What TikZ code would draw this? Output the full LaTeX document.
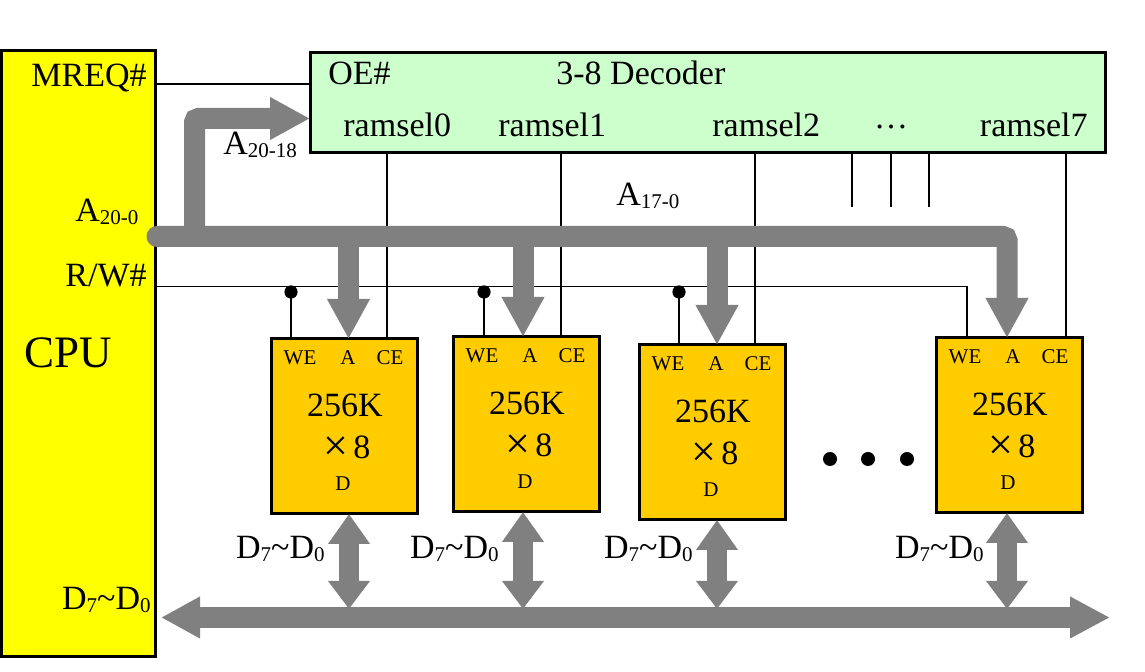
\documentclass[tikz,border=0pt]{standalone}
\usepackage{fontspec}
\usepackage{graphicx}
\setmainfont{Liberation Serif}
\usetikzlibrary{arrows.meta}
\definecolor{cpuY}{HTML}{FFFF00}
\definecolor{decG}{HTML}{CCFFCC}
\definecolor{chipO}{HTML}{FFCC00}
\definecolor{busG}{HTML}{808080}
\newcommand\sbs[1]{\raisebox{-1.5pt}{\fontsize{10.5pt}{11pt}\selectfont #1}}
\newcommand\bigf{\fontsize{17pt}{20pt}\selectfont}
\newcommand\memchip[3]{%
  \begin{scope}[shift={(#2,#3)}]
    \node[chipbox, anchor=north west] (#1) at (0,0) {};
    \node[smalltxt] (#1-we) at (29,26) {WE};
    \node[smalltxt] (#1-a) at (77,26) {A};
    \node[smalltxt] (#1-ce) at (119,26) {CE};
    \node[bigtxt] (#1-k) at (74,78) {256K};
    \node[bigtxt] (#1-x) at (76,120) {\raisebox{-1pt}{\scalebox{1.3}{×}}\kern2.5pt8};
    \node[dtxt] (#1-d) at (72,152) {D};
  \end{scope}}
\tikzset{
  x=0.5pt, y=-0.5pt,
  chipbox/.style={draw, line width=1.5pt, fill=chipO, minimum width=73pt, minimum height=87.5pt, inner sep=0pt, outer sep=0pt},
  smalltxt/.style={inner sep=0pt, anchor=base, font=\fontsize{10.5pt}{12pt}\selectfont},
  bigtxt/.style={inner sep=0pt, anchor=base, font=\bigf},
  dtxt/.style={inner sep=0pt, anchor=base, font=\fontsize{10.5pt}{12pt}\selectfont},
  lbl/.style={inner sep=0pt, font=\bigf},
  wire/.style={line width=0.75pt, draw=black},
  bus/.style={line width=10.5pt, draw=busG},
  bigtip/.style={-{Triangle[width=20pt, length=20pt]}},
  dtipA/.style={{Triangle[width=20pt, length=15pt]}-{Triangle[width=20pt, length=14pt]}},
}
\begin{document}
\begin{tikzpicture}
\useasboundingbox (0,0) rectangle (1145,672);
% CPU
\node[draw, line width=1.5pt, fill=cpuY, minimum width=77pt, minimum height=303pt, inner sep=0pt, outer sep=0pt, anchor=north west] (cpu) at (1.5,51) {};
\node[lbl, anchor=base west, font=\fontsize{22.5pt}{26pt}\selectfont] (cpulbl) at (24,368) {CPU};
\node[lbl, anchor=base east] (mreq) at (147,87) {MREQ\#};
\node[lbl, anchor=base west] (a200) at (75,222) {A\sbs{20-0}};
\node[lbl, anchor=base east] (rw) at (147,287) {R/W\#};
\node[lbl, anchor=base east] (dcpu) at (151,610) {D\sbs{7}\textasciitilde D\sbs{0}};
% decoder
\node[draw, line width=1.5pt, fill=decG, minimum width=397.5pt, minimum height=50pt, inner sep=0pt, outer sep=0pt, anchor=north west] (dec) at (310,53) {};
\node[lbl, anchor=base west] (oe) at (328,85) {OE\#};
\node[lbl, anchor=base west] (dectitle) at (556,85) {3-8 Decoder};
\node[lbl, anchor=base west] (rs0) at (343,137) {ramsel0};
\node[lbl, anchor=base west] (rs1) at (498,137) {ramsel1};
\node[lbl, anchor=base west] (rs2) at (712,137) {ramsel2};
\node[lbl, anchor=base] (rsdots) at (891,137) {\raisebox{4pt}{…}};
\node[lbl, anchor=base east] (rs7) at (1088,137) {ramsel7};
% labels
\node[lbl, anchor=base west] (a2018) at (223,155) {A\sbs{20-18}};
\node[lbl, anchor=base west] (a170) at (616,206) {A\sbs{17-0}};
% chips
\memchip{c1}{271}{339}
\memchip{c2}{453}{337}
\memchip{c3}{639}{345}
\memchip{c4}{936}{338}
% ellipsis dots
\fill (830,459) circle (3.5pt);
\fill (868,459) circle (3.5pt);
\fill (907,459) circle (3.5pt);
% data labels
\node[lbl, anchor=base east] (dl1) at (325,559) {D\sbs{7}\textasciitilde D\sbs{0}};
\node[lbl, anchor=base east] (dl2) at (499,559) {D\sbs{7}\textasciitilde D\sbs{0}};
\node[lbl, anchor=base east] (dl3) at (693,559) {D\sbs{7}\textasciitilde D\sbs{0}};
\node[lbl, anchor=base east] (dl4) at (984,559) {D\sbs{7}\textasciitilde D\sbs{0}};
% coordinates
\coordinate (mreqL) at (155,84);
\coordinate (rwL) at (155,286.5);
\coordinate (rwR) at (967,286.5);
\coordinate (s3) at (852,207);
\coordinate (s4) at (891,207);
\coordinate (s5) at (929,207);
% thin wires
\draw[wire] (mreqL) -- (mreqL -| dec.west);
\draw[wire] (387,153) coordinate (ce0) -- (ce0 |- c1.north);
\draw[wire] (561,153) coordinate (ce1) -- (ce1 |- c2.north);
\draw[wire] (755,153) coordinate (ce2) -- (ce2 |- c3.north);
\draw[wire] (1066,153) coordinate (ce7) -- (ce7 |- c4.north);
\draw[wire] (s3 |- dec.south) -- (s3);
\draw[wire] (s4 |- dec.south) -- (s4);
\draw[wire] (s5 |- dec.south) -- (s5);
\draw[wire] (rwL) -- (rwR) -- (rwR |- c4.north);
\draw[wire] (291,286.5) coordinate (we1) -- (we1 |- c1.north);
\draw[wire] (484,286.5) coordinate (we2) -- (we2 |- c2.north);
\draw[wire] (679,286.5) coordinate (we3) -- (we3 |- c3.north);
\fill (291,292) circle (3.3pt);
\fill (484,292) circle (3.3pt);
\fill (679,292) circle (3.3pt);
% address bus
\coordinate (a0) at (157,236.5);
\coordinate (aR) at (1007,236.5);
\coordinate (br) at (194.5,236.5);
\coordinate (b1) at (348.5,236.5);
\coordinate (b2) at (523,236.5);
\coordinate (b3) at (717,236.5);
\draw[bus, rounded corners=2pt, line cap=round, bigtip] (a0) -- (aR) -- (aR |- c4.north);
\draw[bus, rounded corners=2pt, bigtip] (br) |- (dec.west |- 0,118.5);
\draw[bus, bigtip] (b1) -- (b1 |- c1.north);
\draw[bus, bigtip] (b2) -- (b2 |- c2.north);
\draw[bus, bigtip] (b3) -- (b3 |- c3.north);
% data bus
\coordinate (dL) at (161,617.5);
\coordinate (dR) at (1110,617.5);
\draw[bus, {Triangle[width=19.5pt, length=19.5pt]}-{Triangle[width=19.5pt, length=20pt]}] (dL) -- (dR);
\draw[bus, line width=10pt, dtipA] (c1.south -| 349,0) -- (349,609);
\draw[bus, line width=10pt, dtipA] (c2.south -| 523,0) -- (523,609);
\draw[bus, line width=10pt, dtipA] (c3.south -| 717,0) -- (717,609);
\draw[bus, line width=10pt, dtipA] (c4.south -| 1007,0) -- (1007,609);
\end{tikzpicture}
\end{document}
